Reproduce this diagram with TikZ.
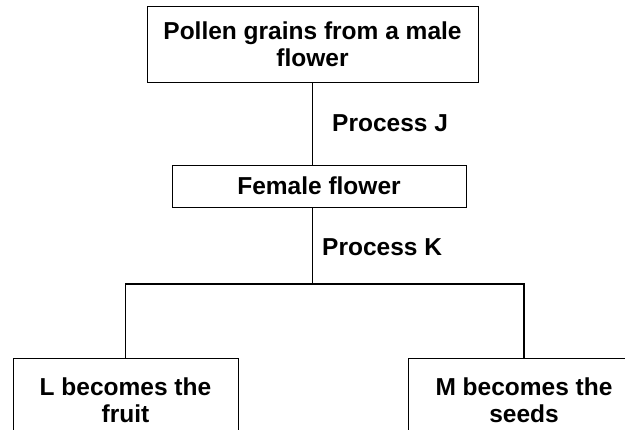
\documentclass[tikz,border=0pt]{standalone}
\usepackage{fontspec}
\setmainfont{Liberation Sans}
\usetikzlibrary{positioning,calc}

\tikzset{
    box/.style={draw, line width=0.7pt, align=center, inner sep=0pt,
        font=\bfseries\fontsize{24.5}{27}\selectfont},
    proc/.style={anchor=west, inner sep=0pt, font=\bfseries\fontsize{24.5}{27}\selectfont},
    link/.style={line width=1.6pt}
}

\begin{document}
\begin{tikzpicture}[x=1pt, y=-1pt]
    \useasboundingbox (0,0) rectangle (625,430);

    % boxes
    \node[box, minimum width=331pt, minimum height=76pt] (pollen) at (312.5,44) {Pollen grains from a male\\flower};
    \node[box, minimum width=294pt, minimum height=42pt] (female) at (319,186) {Female flower};
    \node[box, minimum width=225pt, minimum height=84pt] (fruit) at (125.5,400) {L becomes the\\fruit};
    \node[box, minimum width=232pt, minimum height=84pt] (seeds) at (524,400) {M becomes the\\seeds};

    % labels
    \node[proc] (procJ) at (332,123) {Process J};
    \node[proc] (procK) at (322,247) {Process K};

    % connectors
    \coordinate (split) at (312.5,284);
    \draw[link] (pollen.south) -- (pollen.south |- female.north);
    \draw[link] (pollen.south |- female.south) -- (split);
    \draw[link] (fruit.north) -- (fruit.north |- split) -- (seeds.north |- split) -- (seeds.north);
\end{tikzpicture}
\end{document}
